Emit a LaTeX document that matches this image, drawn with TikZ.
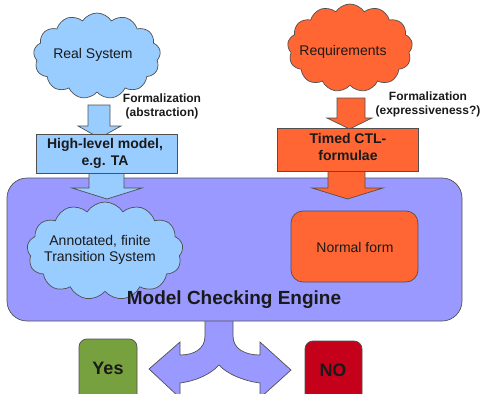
\documentclass[tikz,border=0pt]{standalone}
\usepackage{fontspec}
\setmainfont{Liberation Sans}
\usetikzlibrary{shapes.symbols}

\definecolor{skyfill}{HTML}{99CCFF}
\definecolor{enginefill}{HTML}{9999FF}
\definecolor{reqfill}{HTML}{FF6633}
\definecolor{yesfill}{HTML}{77A03F}
\definecolor{nofill}{HTML}{C5001A}
\definecolor{edge}{HTML}{505050}
\definecolor{ink}{HTML}{1A1A1A}

\tikzset{
  outline/.style={draw=edge, line width=0.7pt},
  puff/.style={outline, shape=cloud, cloud puffs=13, cloud puff arc=115,
    cloud ignores aspect, inner sep=0pt},
  plainbox/.style={outline, shape=rectangle, inner sep=0pt},
  lbl/.style={font=\fontsize{14}{16}\selectfont, text=ink, align=center, inner sep=0pt},
  boldlbl/.style={font=\bfseries\fontsize{14}{17}\selectfont, text=ink, align=center, inner sep=0pt},
  note/.style={font=\bfseries\fontsize{12}{14}\selectfont, text=ink, align=center, inner sep=0pt},
  bigbold/.style={font=\bfseries\fontsize{19}{22}\selectfont, text=ink, inner sep=0pt},
  verdict/.style={font=\bfseries\fontsize{18}{20}\selectfont, text=ink, inner sep=0pt}
}

\begin{document}
\begin{tikzpicture}[x=1pt, y=-1pt]
\useasboundingbox (0,0) rectangle (483,394);
\clip (0,0) rectangle (483,394);

% split arrow leaving the engine towards the two verdicts
\path[outline, fill=enginefill] (205,321) -- (205,336)
  .. controls (205,349) and (194,355) .. (180,355)
  -- (180,342) -- (149,369) -- (180,398) -- (180,383)
  .. controls (196,381) and (211,374) .. (219,365)
  .. controls (227,374) and (244,381) .. (260,383)
  -- (260,398) -- (291,370) -- (260,342) -- (260,355)
  .. controls (245,355) and (233,349) .. (233,336) -- (233,321);

% model checking engine
\node[plainbox, fill=enginefill, rounded corners=20pt,
  minimum width=455pt, minimum height=143pt] (engine) at (234.5,249.5) {};

% verdict boxes
\node[plainbox, fill=yesfill, rounded corners=8pt,
  minimum width=58pt, minimum height=64pt] (yesbox) at (108,371) {};
\node[verdict] (yes) at (108,368) {Yes};
\node[plainbox, fill=nofill, rounded corners=8pt,
  minimum width=57pt, minimum height=62pt] (nobox) at (333.5,372) {};
\node[verdict] (no) at (333,370) {NO};

% left column: system side
\node[puff, fill=skyfill, minimum width=127pt, minimum height=86pt] (realcloud) at (97,56) {};
\node[lbl] (real) at (93,55) {Real System};

\path[outline, fill=skyfill] (88,105) -- (110,105) -- (110,126) -- (121,126)
  -- (99.5,138) -- (78,126) -- (88,126) -- cycle;
\node[note] (formabs) at (162,106) {Formalization\\(abstraction)};

\path[outline, fill=skyfill] (89,165) -- (124,165) -- (124,188) -- (142,188)
  -- (107,199) -- (72,188) -- (89,188) -- cycle;
\node[plainbox, fill=skyfill, minimum width=141pt, minimum height=39pt] (hlbox) at (106.5,153.5) {};
\node[boldlbl] (hl) at (105,153) {High-level model,\\e.g. TA};

\node[puff, fill=skyfill, minimum width=156pt, minimum height=98pt] (tscloud) at (105,251) {};
\node[lbl] (ts) at (100,250) {Annotated, finite\\Transition System};

% right column: requirement side
\node[puff, fill=reqfill, minimum width=125pt, minimum height=88pt] (reqcloud) at (350,48) {};
\node[lbl] (req) at (343,52) {Requirements};

\path[outline, fill=reqfill] (337,98) -- (365,98) -- (365,118) -- (372,118)
  -- (349.5,129) -- (327,118) -- (337,118) -- cycle;
\node[note] (formexp) at (428,104) {Formalization\\(expressiveness?)};

\path[outline, fill=reqfill] (328,165) -- (365,165) -- (365,188) -- (383,188)
  -- (347.5,199) -- (312,188) -- (328,188) -- cycle;
\node[plainbox, fill=reqfill, minimum width=141pt, minimum height=43pt] (ctlbox) at (347.5,149.5) {};
\node[boldlbl] (ctl) at (348,146.5) {Timed CTL-\\formulae};

\node[plainbox, fill=reqfill, rounded corners=12pt,
  minimum width=127pt, minimum height=71pt] (nfbox) at (354.5,246.5) {};
\node[lbl] (nf) at (355,247) {Normal form};

\node[bigbold] (mce) at (234,300) {Model Checking Engine};
\end{tikzpicture}
\end{document}
